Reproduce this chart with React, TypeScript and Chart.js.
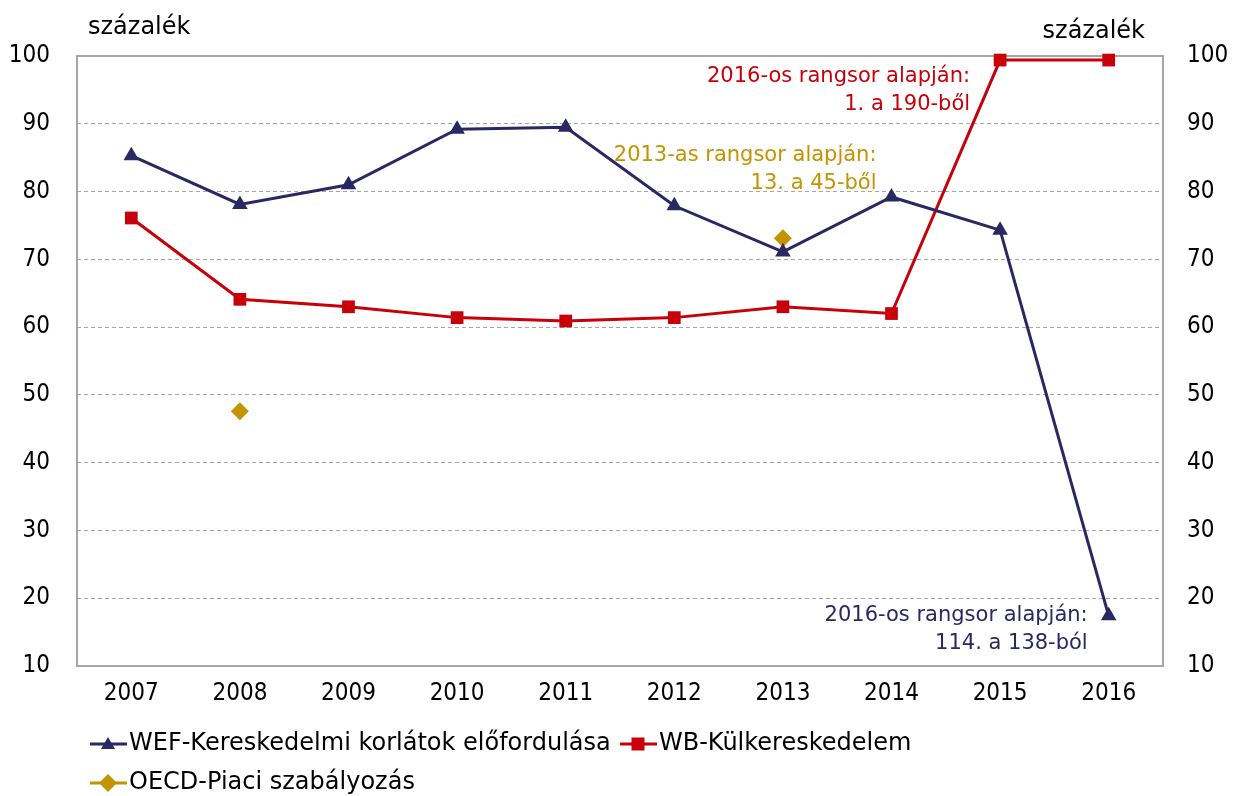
import React, { useEffect, useRef } from "react";
import { Chart, registerables } from "chart.js";

Chart.register(...registerables);

const years = ["2007", "2008", "2009", "2010", "2011", "2012", "2013", "2014", "2015", "2016"];
const wefValues = [85.3, 78.1, 81.0, 89.2, 89.5, 77.9, 71.1, 79.2, 74.3, 17.4];
const wbValues = [76.1, 64.1, 63.0, 61.4, 60.9, 61.4, 63.0, 62.0, 99.4, 99.4];
const oecdValues = [null, 47.6, null, null, null, null, 73.1, null, null, null];
const yTicks = [10, 20, 30, 40, 50, 60, 70, 80, 90, 100];

const seriesNames = [
  "WEF-Kereskedelmi korlátok előfordulása",
  "WB-Külkereskedelem",
  "OECD-Piaci szabályozás",
];
const axisTitle = "százalék";

const NAVY = "#2A2862";
const RED = "#C8000A";
const GOLD = "#C39300";
const TICK_FONT = "'DejaVu Sans Condensed', 'DejaVu Sans', sans-serif";
const TEXT_FONT = "'DejaVu Sans', sans-serif";

const annotations = [
  { lines: ["2016-os rangsor alapján:", "1. a 190-ből"], color: RED, xIdx: 8, dx: -30, yVal: 97.0 },
  { lines: ["2013-as rangsor alapján:", "13. a 45-ből"], color: GOLD, xIdx: 7, dx: -15, yVal: 85.3 },
  { lines: ["2016-os rangsor alapján:", "114. a 138-ból"], color: NAVY, xIdx: 9, dx: -21, yVal: 17.4 },
];

function drawMarker(ctx: CanvasRenderingContext2D, style: string, x: number, y: number, color: string) {
  ctx.save();
  ctx.fillStyle = color;
  ctx.beginPath();
  if (style === "triangle") {
    ctx.moveTo(x, y - 7);
    ctx.lineTo(x + 7, y + 5);
    ctx.lineTo(x - 7, y + 5);
  } else if (style === "rect") {
    ctx.rect(x - 6.5, y - 6.5, 13, 13);
  } else {
    ctx.moveTo(x, y - 9);
    ctx.lineTo(x + 9, y);
    ctx.lineTo(x, y + 9);
    ctx.lineTo(x - 9, y);
  }
  ctx.closePath();
  ctx.fill();
  ctx.restore();
}

const customPlugin = {
  id: "custom",
  beforeDatasetsDraw(chart: any) {
    const { ctx, chartArea } = chart;
    ctx.save();
    ctx.strokeStyle = "#A6A6A6";
    ctx.lineWidth = 2;
    ctx.strokeRect(chartArea.left, chartArea.top, chartArea.right - chartArea.left, chartArea.bottom - chartArea.top);
    ctx.restore();
  },
  afterDraw(chart: any) {
    const { ctx } = chart;
    const xs = chart.scales.x;
    const ys = chart.scales.y;
    ctx.save();
    ctx.font = `24px ${TEXT_FONT}`;
    ctx.fillStyle = "#000";
    ctx.textBaseline = "middle";
    ctx.textAlign = "left";
    ctx.fillText(axisTitle, 88, 28);
    ctx.textAlign = "right";
    ctx.fillText(axisTitle, 1145, 32);

    ctx.font = `21px ${TEXT_FONT}`;
    for (const a of annotations) {
      const x = xs.getPixelForValue(a.xIdx) + a.dx;
      const y0 = ys.getPixelForValue(a.yVal);
      ctx.fillStyle = a.color;
      ctx.textAlign = "right";
      a.lines.forEach((l, i) => ctx.fillText(l, x, y0 + i * 28));
    }

    // legend
    ctx.font = `24px ${TEXT_FONT}`;
    ctx.textAlign = "left";
    const items = [
      { name: seriesNames[0], color: NAVY, style: "triangle", x: 90, y: 744 },
      { name: seriesNames[1], color: RED, style: "rect", x: 620, y: 744 },
      { name: seriesNames[2], color: GOLD, style: "rectRot", x: 90, y: 783 },
    ];
    for (const it of items) {
      ctx.strokeStyle = it.color;
      ctx.lineWidth = 3;
      ctx.beginPath();
      ctx.moveTo(it.x, it.y);
      ctx.lineTo(it.x + 37, it.y);
      ctx.stroke();
      drawMarker(ctx, it.style, it.x + 18, it.y, it.color);
      ctx.fillStyle = "#000";
      ctx.fillText(it.name, it.x + 39, it.y);
    }
    ctx.restore();
  },
};

export default function App() {
  const ref = useRef<HTMLCanvasElement>(null);
  useEffect(() => {
    document.body.style.margin = "0";
    const tickFont = { family: TICK_FONT, size: 24 };
    const chart = new Chart(ref.current!, {
      type: "line",
      data: {
        labels: years,
        datasets: [
          {
            label: seriesNames[0],
            data: wefValues,
            borderColor: NAVY,
            backgroundColor: NAVY,
            borderWidth: 3,
            pointStyle: "triangle",
            pointRadius: 9,
            pointBorderWidth: 0,
            tension: 0,
            clip: false,
          },
          {
            label: seriesNames[1],
            data: wbValues,
            borderColor: RED,
            backgroundColor: RED,
            borderWidth: 3,
            pointStyle: "rect",
            pointRadius: 9,
            pointBorderWidth: 0,
            tension: 0,
            clip: false,
          },
          {
            label: seriesNames[2],
            data: oecdValues,
            borderColor: GOLD,
            backgroundColor: GOLD,
            showLine: false,
            pointStyle: "rectRot",
            pointRadius: 9,
            pointBorderWidth: 0,
            clip: false,
          },
        ],
      },
      options: {
        animation: false,
        responsive: false,
        layout: { padding: { top: 56, left: 0, right: 0, bottom: 0 } },
        plugins: { legend: { display: false }, tooltip: { enabled: false } },
        scales: {
          x: {
            offset: true,
            grid: { display: false, drawTicks: false },
            border: { display: false },
            ticks: { font: tickFont, color: "#000", padding: 13 },
            afterFit: (s: any) => { s.height = 130; },
          },
          y: {
            position: "left",
            min: 10,
            max: 100,
            afterBuildTicks: (s: any) => { s.ticks = yTicks.map((v) => ({ value: v })); },
            grid: { color: "#A6A6A6", lineWidth: 1, drawTicks: false },
            border: { display: false, dash: [4, 3] },
            ticks: { font: tickFont, color: "#000", padding: 27 },
            afterFit: (s: any) => { s.width = 77; },
          },
          y2: {
            position: "right",
            min: 10,
            max: 100,
            afterBuildTicks: (s: any) => { s.ticks = yTicks.map((v) => ({ value: v })); },
            grid: { display: false, drawTicks: false },
            border: { display: false },
            ticks: { font: tickFont, color: "#000", padding: 24 },
            afterFit: (s: any) => { s.width = 70; },
          },
        },
      } as any,
      plugins: [customPlugin],
    });
    return () => chart.destroy();
  }, []);
  return <canvas ref={ref} width={1233} height={796} style={{ display: "block" }} />;
}
